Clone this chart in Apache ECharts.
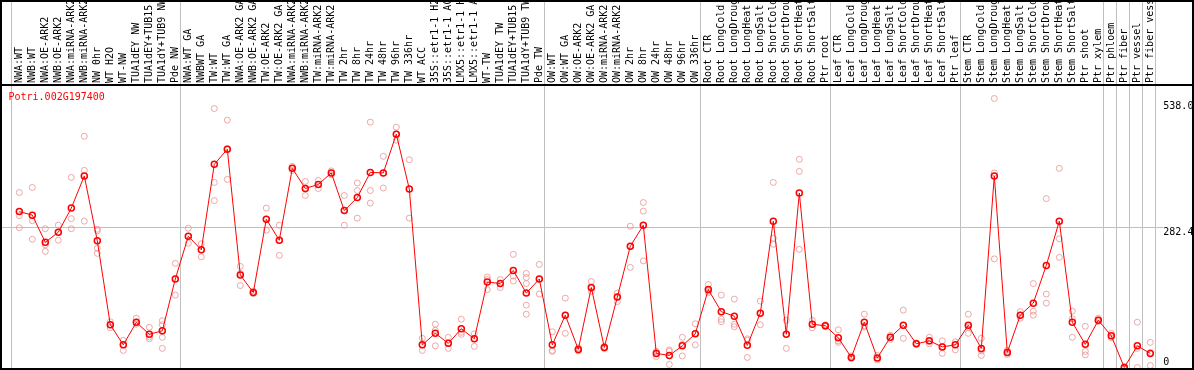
<!DOCTYPE html>
<html><head><meta charset="utf-8">
<script src="https://cdn.jsdelivr.net/npm/echarts@6/dist/echarts.min.js"></script>
<style>html,body{margin:0;padding:0;background:#fff}#c{width:1194px;height:370px}</style>
</head><body><div id="c"></div>
<script>
const geneId = 'Potri.002G197400';
const categories = [
 'NWA:WT','NWB:WT','NWA:OE-ARK2','NWB:OE-ARK2','NWA:miRNA-ARK2','NWB:miRNA-ARK2','NW 0hr','WT H2O','WT-NW','TUA1dEY NW',
 'TUA1dEY+TUB15 NW','TUA1dY+TUB9 NW','Pde NW','NWA:WT GA','NWBWT GA','TW:WT','TW:WT GA','NWA:OE-ARK2 GA','NWB:OE-ARK2 GA','TW:OE-ARK2',
 'TW:OE-ARK2 GA','NWA:miRNA-ARK2 GA','NWB:miRNA-ARK2 GA','TW:miRNA-ARK2','TW:miRNA-ARK2 GA','TW 2hr','TW 8hr','TW 24hr','TW 48hr','TW 96hr',
 'TW 336hr','WT ACC','35S::etr1-1 H2O','35S::etr1-1 ACC','LMX5::etr1-1 H2O','LMX5::etr1-1 ACC','WT-TW','TUA1dEY TW','TUA1dEY+TUB15 TW','TUA1dY+TUB9 TW',
 'Pde TW','OW:WT','OW:WT GA','OW:OE-ARK2','OW:OE-ARK2 GA','OW:miRNA-ARK2','OW:miRNA-ARK2 GA','OW 2hr','OW 8hr','OW 24hr',
 'OW 48hr','OW 96hr','OW 336hr','Root CTR','Root LongCold','Root LongDrought','Root LongHeat','Root LongSalt','Root ShortCold','Root ShortDrought',
 'Root ShortHeat','Root ShortSalt','Ptr root','Leaf CTR','Leaf LongCold','Leaf LongDrought','Leaf LongHeat','Leaf LongSalt','Leaf ShortCold','Leaf ShortDrought',
 'Leaf ShortHeat','Leaf ShortSalt','Ptr leaf','Stem CTR','Stem LongCold','Stem LongDrought','Stem LongHeat','Stem LongSalt','Stem ShortCold','Stem ShortDrought',
 'Stem ShortHeat','Stem ShortSalt','Ptr shoot','Ptr xylem','Ptr phloem','Ptr fiber','Ptr vessel','Ptr fiber vessel'
];
const means = [
 313,306,252,272,320,384,255,88,48,93,
 69,76,179,264,237,407,437,187,152,298,
 256,399,359,367,390,315,341,391,390,467,
 358,48,71,51,80,60,173,170,196,151,
 179,48,107,39,162,43,143,244,286,31,
 27,46,70,158,114,105,47,111,294,69,
 350,89,86,62,23,93,22,63,87,50,
 56,44,48,87,41,384,33,107,131,206,
 294,93,49,97,66,3,46,31
];
const replicates = [
 [351,305,281],[361,295,258],[279,247,234],[286,272,256],[381,299,279],[463,395,294],[278,275,240,230],[94,88,82],[57,48,37],[101,93,89],
 [83,64,60],[96,88,63,41],[210,179,147],[280,264,250],[249,237,223],[518,371,335],[495,438,377],[204,190,166],[155,152,150],[320,298,276],
 [286,256,226],[395,399,403],[373,359,345],[375,367,359],[394,390,386],[345,316,286],[370,355,300],[491,355,330],[423,390,360],[481,467,455],
 [416,358,300],[61,48,37],[89,77,46],[63,51,41],[99,73,69],[70,60,45],[183,178,158],[178,170,162],[228,185,175],[190,182,170,127,109],
 [208,179,149],[74,37,35],[141,107,71],[42,39,36],[174,160,154],[45,43,41],[151,143,134],[284,244,202],[331,314,215],[35,33,25],
 [38,35,9],[63,49,26],[90,71,48],[168,155,152],[147,99,94],[139,89,84],[60,57,23],[135,111,88],[371,260,248],[97,69,41],
 [417,393,238],[97,89,82],[88,86,84],[78,56,53],[26,23,21],[109,86,84],[27,22,18],[67,63,59],[117,87,61],[52,50,49],
 [63,55,50],[56,45,31],[54,48,38],[109,83,71],[61,36,27],[538,390,219],[37,33,29],[114,107,101],[170,115,107],[339,149,131],
 [399,259,222],[115,100,63],[85,35,28],[101,97,94],[71,66,62],[5,3,1],[93,41,3],[53,33,7]
];
const yTickValues = [538.0, 282.4, 0];
const yTickLabels = ['538.0', '282.4', '0'];
const groupBoundaries = [0, 13, 41, 53, 63, 73, 84, 85, 86, 87, 88];
const yMax = 564.8;

const FONT = '"DejaVu Sans Mono", "Liberation Mono", monospace';
const labelDy = [8, 5.5, -6.3];
const chart = echarts.init(document.getElementById('c'), null, {renderer: 'canvas'});

const repPoints = [];
replicates.forEach((arr, i) => arr.forEach(v => repPoints.push([i, v])));

const option = {
  animation: false,
  backgroundColor: '#ffffff',
  title: {text: geneId, left: 8.5, top: 92, padding: 0,
    textStyle: {color: '#ff0000', fontSize: 10, fontWeight: 'normal', fontFamily: FONT}},
  grid: {left: 12.8, right: 37.2, top: 85, bottom: 1, containLabel: false, outerBoundsMode: 'none'},
  xAxis: {type: 'category', data: categories, position: 'top', boundaryGap: true,
    axisLine: {show: false}, axisTick: {show: false}, splitLine: {show: false},
    axisLabel: {interval: 0, rotate: 90, margin: 2, color: '#000', fontSize: 10, fontFamily: FONT}},
  yAxis: {type: 'value', min: 0, max: yMax, position: 'right',
    axisLine: {show: false}, axisTick: {show: false}, axisLabel: {show: false}, splitLine: {show: false}},
  series: [
    {type: 'custom', clip: false, silent: true, data: [[0, 0]], z: 1,
      renderItem: function (params, api) {
        const band = api.size([1, 0])[0];
        const x0 = api.coord([0, 0])[0] - band / 2 - 1.8;
        const yBottom = api.coord([0, 0])[1];
        const children = [];
        groupBoundaries.forEach(k => {
          const x = Math.round(x0 + k * band) + 0.5;
          children.push({type: 'line', shape: {x1: x, y1: 0, x2: x, y2: yBottom},
            style: {stroke: '#c0c0c0', lineWidth: 1}});
        });
        const xLab = x0 + 88 * band + 8.3;
        const yMid = Math.round(api.coord([0, yTickValues[1]])[1]) + 0.5;
        children.push({type: 'line', shape: {x1: 2, y1: yMid, x2: xLab, y2: yMid},
          style: {stroke: '#c0c0c0', lineWidth: 1}});
        yTickValues.forEach((v, j) => {
          const y = api.coord([0, v])[1] + labelDy[j];
          children.push({type: 'text', x: xLab, y: y,
            style: {text: yTickLabels[j], fill: '#000', font: '10px ' + FONT, align: 'left', verticalAlign: 'middle'}});
        });
        return {type: 'group', children: children};
      }},
    {type: 'scatter', data: repPoints, symbol: 'circle', symbolSize: 6, z: 2,
      itemStyle: {color: 'rgba(0,0,0,0)', borderColor: '#e89494', borderWidth: 1}},
    {type: 'line', data: means, symbol: 'circle', symbolSize: 6, showAllSymbol: true, z: 3,
      itemStyle: {color: 'rgba(0,0,0,0)', borderColor: '#ff0000', borderWidth: 1.5},
      lineStyle: {color: '#ff0000', width: 1}}
  ],
  graphic: [
    {type: 'rect', shape: {x: 1, y: 1, width: 1192, height: 368}, style: {fill: null, stroke: '#000', lineWidth: 2}, z: 100},
    {type: 'line', shape: {x1: 0, y1: 85, x2: 1194, y2: 85}, style: {stroke: '#000', lineWidth: 2}, z: 100}
  ]
};
chart.setOption(option);
</script>
</body></html>
